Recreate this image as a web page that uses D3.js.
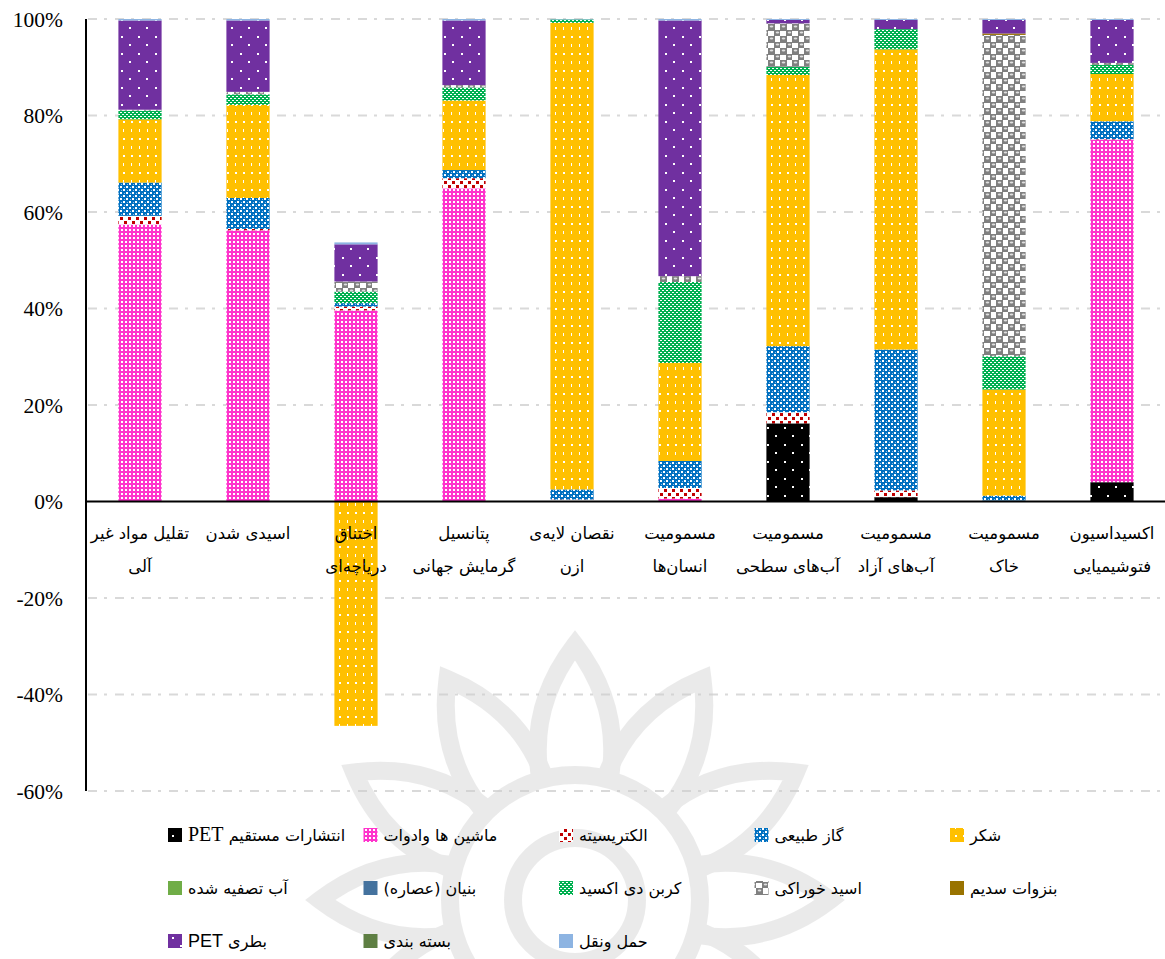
<!DOCTYPE html>
<html><head><meta charset="utf-8">
<script src="https://cdn.jsdelivr.net/npm/d3@7"></script>
<style>
html,body{margin:0;padding:0;background:#fff;}
svg{display:block;}
.fa{font-family:"DejaVu Sans",sans-serif;}
.num{font-family:"Liberation Serif","Times New Roman",serif;}
</style></head>
<body>
<svg id="chart" width="1165" height="959"></svg>
<script>
// ---------------- DATA ----------------
const categories = [
  ["تقلیل مواد غیر","آلی"],
  ["اسیدی شدن"],
  ["اختناق","دریاچه‌ای"],
  ["پتانسیل","گرمایش جهانی"],
  ["نقصان لایه‌ی","ازن"],
  ["مسمومیت","انسان‌ها"],
  ["مسمومیت","آب‌های سطحی"],
  ["مسمومیت","آب‌های آزاد"],
  ["مسمومیت","خاک"],
  ["اکسیداسیون","فتوشیمیایی"]
];
const seriesNames = [
  ["انتشارات مستقیم ","PET"],["ماشین ها وادوات"],["الکتریسیته"],["گاز طبیعی"],["شکر"],
  ["آب تصفیه شده"],["بنیان (عصاره)"],["کربن دی اکسید"],["اسید خوراکی"],["بنزوات سدیم"],
  ["بطری  ","PET"],["بسته بندی"],["حمل ونقل"]
];
// values in percent, one array per series, in category order
const petDirect      = [0,    0,    0,     0,    0,    0,    16.2, 0.9,  0,    4.0];
const machines       = [57.4, 56.2, 39.6,  64.9, 0.1,  0.6,  0,    0,    0,    71.0];
const electricity    = [1.8,  0.3,  0.8,   2.1,  0.3,  2.2,  2.3,  1.4,  0.2,  0.1];
const naturalGas     = [6.9,  6.4,  0.7,   1.7,  2.1,  5.6,  13.7, 29.2, 1.0,  3.7];
const sugar          = [13.1, 19.3, -46.5, 14.4, 96.7, 20.3, 56.2, 62.2, 22.0, 9.8];
const treatedWater   = [0,    0,    0,     0,    0,    0,    0,    0,    0,    0];
const baseExtract    = [0,    0,    0,     0,    0,    0,    0,    0,    0,    0];
const carbonDioxide  = [1.8,  2.2,  2.4,   2.7,  0.7,  16.8, 1.7,  4.2,  6.9,  1.9];
const edibleAcid     = [0.2,  0.5,  2.1,   0.5,  0,    1.2,  9.0,  0,    66.6, 0.4];
const sodiumBenzoate = [0,    0,    0,     0,    0,    0,    0,    0,    0.3,  0];
const petBottle      = [18.5, 14.8, 7.7,   13.4, 0,    53.0, 0.7,  1.9,  2.8,  8.9];
const packaging      = [0,    0,    0,     0,    0,    0,    0,    0,    0,    0];
const transport      = [0.3,  0.3,  0.4,   0.3,  0.1,  0.3,  0.2,  0.2,  0.2,  0.2];
const seriesValues = [petDirect, machines, electricity, naturalGas, sugar, treatedWater,
  baseExtract, carbonDioxide, edibleAcid, sodiumBenzoate, petBottle, packaging, transport];
const yTickValues = [-60,-40,-20,0,20,40,60,80,100];
const yTickLabels = ["-60%","-40%","-20%","0%","20%","40%","60%","80%","100%"];

// ---------------- STYLE ----------------
const seriesFill = ["url(#pDirect)","url(#pMach)","url(#pElec)","url(#pGas)","url(#pSugar)",
  "#70AD47","#44729E","url(#pCO2)","url(#pAcid)","#997300","url(#pBottle)","#5E7F43","#8DB4E2"];

const svg = d3.select("#chart");
const defs = svg.append("defs");
function pat(id,w,h,bg,draw){
  const p = defs.append("pattern").attr("id",id).attr("patternUnits","userSpaceOnUse")
    .attr("width",w).attr("height",h);
  p.append("rect").attr("width",w).attr("height",h).attr("fill",bg);
  draw(p);
}
const r = (p,x,y,w,h,c)=>p.append("rect").attr("x",x).attr("y",y).attr("width",w).attr("height",h).attr("fill",c);
pat("pDirect",17,17,"#000",p=>{r(p,2,2,2,2,"#fff");r(p,10,10,2,2,"#fff");});
pat("pBottle",17,17,"#7030A0",p=>{r(p,2,2,2,2,"#fff");r(p,10,10,2,2,"#fff");});
pat("pMach",4,4,"#FF33CC",p=>{r(p,1,1,2,2,"#fff");});
pat("pElec",8,8,"#fff",p=>{r(p,0,1,3,3,"#C00000");r(p,4,5,3,3,"#C00000");});
pat("pGas",6,6,"#0070C0",p=>{r(p,0,0,2,2,"#fff");r(p,3,3,2,2,"#fff");r(p,1,4,1,1,"#8fc0ea");r(p,4,1,1,1,"#8fc0ea");});
pat("pSugar",8,17,"#FFC000",p=>{r(p,3,2,2,2,"#fff");r(p,3,10,1,3,"#fff");});
pat("pCO2",4,4,"#00B050",p=>{r(p,0,0,2,1,"#fff");r(p,2,2,2,1,"#fff");});
pat("pAcid",12,12,"#fff",p=>{r(p,0,0,7,7,"#808080");r(p,6,6,7,7,"#808080");
  p.append("ellipse").attr("cx",3.5).attr("cy",2.5).attr("rx",1.8).attr("ry",0.9).attr("fill","#e0e0e0");
  p.append("ellipse").attr("cx",9.5).attr("cy",8.5).attr("rx",1.8).attr("ry",0.9).attr("fill","#e0e0e0");});

// ---------------- SCALES ----------------
const x = d3.scaleBand().domain(d3.range(categories.length)).range([86,1166])
  .paddingInner(0.6).paddingOuter(0.3);
const y = d3.scaleLinear().domain([-60,100]).range([791,19]);

// gridlines
svg.append("g").selectAll("line").data(yTickValues.filter(v=>v!==0)).join("line")
  .attr("x1",88).attr("x2",1165).attr("y1",d=>y(d)).attr("y2",d=>y(d))
  .attr("stroke","#D9D9D9").attr("stroke-width",2).attr("stroke-dasharray","9,7,3,8");

// stacked bars
const table = categories.map((c,i)=>{const o={i}; seriesValues.forEach((s,k)=>o[k]=s[i]); return o;});
const stack = d3.stack().keys(d3.range(seriesValues.length)).offset(d3.stackOffsetDiverging);
const layers = stack(table);
svg.append("g").selectAll("g").data(layers).join("g")
  .attr("fill",(d,k)=>seriesFill[k])
  .selectAll("rect").data(d=>d.filter(e=>e[1]!==e[0])).join("rect")
  .attr("x",d=>x(d.data.i)).attr("width",x.bandwidth())
  .attr("y",d=>y(Math.max(d[0],d[1]))).attr("height",d=>Math.abs(y(d[0])-y(d[1])));

// watermark (faint decorative rosette, overlaid)
const wm = svg.append("g").attr("opacity",0.42).attr("fill","none").attr("stroke","#cfcfcf").attr("stroke-width",18);
const cx0=575, cy0=900;
for(let i=0;i<12;i++){
  const a = -Math.PI/2 + i*Math.PI/6;
  const R1=125, R2=255, w=0.28;
  const p1=[cx0+R1*Math.cos(a-w),cy0+R1*Math.sin(a-w)];
  const p2=[cx0+R2*Math.cos(a),cy0+R2*Math.sin(a)];
  const p3=[cx0+R1*Math.cos(a+w),cy0+R1*Math.sin(a+w)];
  const c1=[cx0+(R2*0.78)*Math.cos(a-0.24),cy0+(R2*0.78)*Math.sin(a-0.24)];
  const c2=[cx0+(R2*0.78)*Math.cos(a+0.24),cy0+(R2*0.78)*Math.sin(a+0.24)];
  wm.append("path").attr("d",`M${p1}Q${c1} ${p2}Q${c2} ${p3}`);
}
wm.append("circle").attr("cx",cx0).attr("cy",cy0).attr("r",125);
wm.append("circle").attr("cx",cx0).attr("cy",cy0).attr("r",62);

// axes lines
svg.append("line").attr("x1",86).attr("x2",1165).attr("y1",y(0)).attr("y2",y(0))
  .attr("stroke","#000").attr("stroke-width",2);
svg.append("line").attr("x1",86).attr("x2",86).attr("y1",y(100)).attr("y2",y(-60))
  .attr("stroke","#000").attr("stroke-width",2);

// y tick labels
svg.append("g").attr("class","num").selectAll("text").data(yTickValues).join("text")
  .attr("x",63).attr("y",d=>y(d)).attr("dy","0.35em").attr("text-anchor","end")
  .attr("font-size",21.5).attr("fill","#000")
  .text((d,i)=>yTickLabels[i]);

// category labels
const cl = svg.append("g").attr("class","fa").attr("font-size",16.5).attr("fill","#000");
categories.forEach((lines,i)=>{
  lines.forEach((t,j)=>{
    cl.append("text").attr("x",x(i)+x.bandwidth()/2).attr("y",533+j*33).attr("dy","0.35em")
      .attr("text-anchor","middle").attr("direction","rtl").text(t);
  });
});

// legend
const lg = svg.append("g").attr("class","fa").attr("font-size",16).attr("fill","#000");
const colX=[168,363.5,559,754.5,950], rowY=[835,888,941];
seriesNames.forEach((parts,k)=>{
  const cx = colX[k%5], cy = rowY[Math.floor(k/5)];
  lg.append("rect").attr("x",cx).attr("y",cy-7).attr("width",14).attr("height",14).attr("fill",seriesFill[k]);
  const t = lg.append("text").attr("x",cx+20).attr("y",cy).attr("dy","0.35em")
    .attr("direction","rtl").attr("text-anchor","end");
  t.append("tspan").text(parts[0]);
  if(parts[1]) t.append("tspan")
    .style("font-family", k===0 ? "'Liberation Serif',serif" : "'Liberation Sans',sans-serif")
    .attr("font-size", k===0 ? 20 : 18).text(parts[1]);
});
</script>
</body></html>
